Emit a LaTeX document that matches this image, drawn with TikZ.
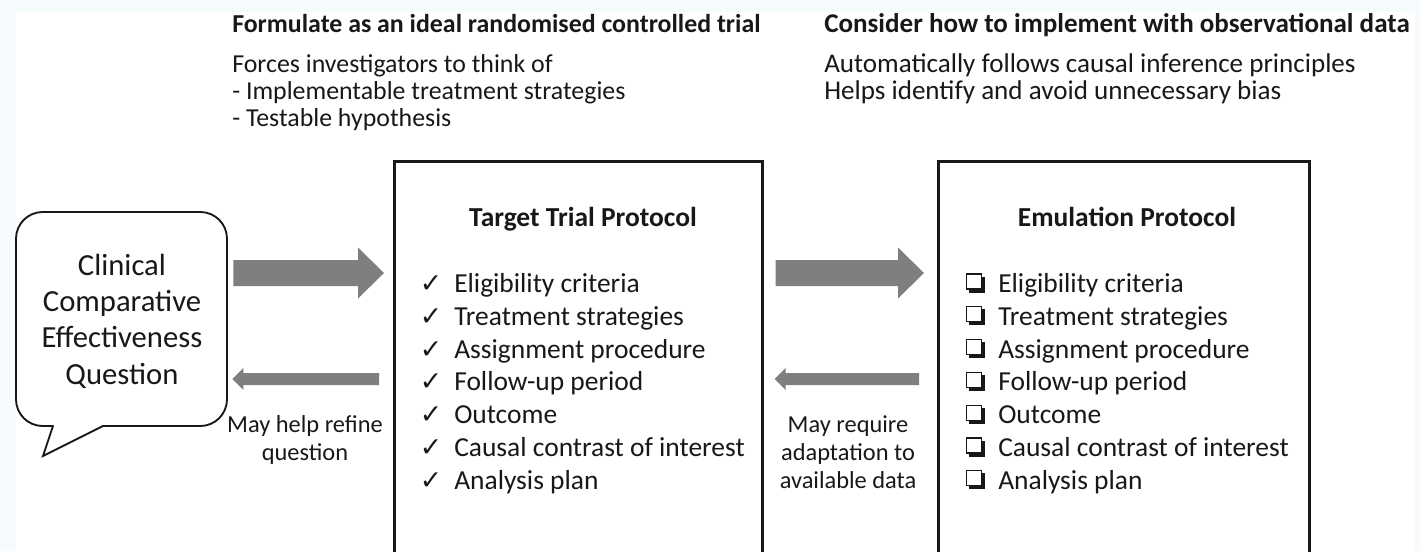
\documentclass[tikz,border=0pt]{standalone}
\usepackage{fontspec}
\setmainfont{Carlito}
\newfontfamily\symfont{DejaVu Sans}
\usetikzlibrary{calc}
\definecolor{arrowgray}{RGB}{127,127,127}
\definecolor{inkcol}{RGB}{24,24,24}
\definecolor{edgecol}{RGB}{246,251,254}

% block arrow: tail name, tip name, half shaft, half head, head length, direction (1 = right, -1 = left)
\newcommand\blockarrow[6]{%
  \fill[arrowgray] ([shift={(0,-#3)}]#1) -- ([shift={({0-(#6)*(#5)},-#3)}]#2)
    -- ([shift={({0-(#6)*(#5)},-#4)}]#2) -- (#2)
    -- ([shift={({0-(#6)*(#5)},#4)}]#2) -- ([shift={({0-(#6)*(#5)},#3)}]#2)
    -- ([shift={(0,#3)}]#1) -- cycle;}

\begin{document}
\begin{tikzpicture}[x=0.75pt,y=-0.75pt,
  txt/.style={inner sep=0pt, text=inkcol},
  toptext/.style={txt, anchor=base west, font=\fontsize{19.4pt}{23pt}\selectfont},
  topbold/.style={toptext, font=\fontsize{19.4pt}{23pt}\selectfont\bfseries},
  righttext/.style={txt, anchor=base west, font=\fontsize{20.3pt}{24pt}\selectfont},
  rightbold/.style={righttext, font=\fontsize{20.3pt}{24pt}\selectfont\bfseries},
  protobox/.style={draw=inkcol, line width=2pt, anchor=north west},
  boxtitle/.style={txt, anchor=base, font=\fontsize{20.6pt}{25pt}\selectfont\bfseries},
  itemtext/.style={txt, anchor=base west, font=\fontsize{20.6pt}{25pt}\selectfont},
  tick/.style={txt, anchor=base, font=\fontsize{20pt}{24pt}\symfont},
  bubbletext/.style={txt, anchor=base, font=\fontsize{23pt}{28pt}\selectfont},
  note/.style={txt, anchor=base, font=\fontsize{18.3pt}{22pt}\selectfont},
]
\useasboundingbox (0,0) rectangle (1420,551);
\clip (0,0) rectangle (1420,551);

% faint page edges
\fill[edgecol] (0,0) rectangle (16,551);
\fill[edgecol] (0,0) rectangle (1420,12);
\fill[edgecol] (1415,0) rectangle (1420,551);

% headings above the protocols
\node[topbold]   (trialhead) at (232,32) {Formulate as an ideal randomised controlled trial};
\node[toptext]   (triala)    at (232,72) {Forces investigators to think of};
\node[toptext]   (trialb)    at (232,99) {- Implementable treatment strategies};
\node[toptext]   (trialc)    at (232,126) {- Testable hypothesis};
\node[rightbold] (obshead)   at (824,32) {Consider how to implement with observational data};
\node[righttext] (obsa)      at (824,72) {Automatically follows causal inference principles};
\node[righttext] (obsb)      at (824,99) {Helps identify and avoid unnecessary bias};

% speech bubble with the question
\node[minimum width=158.25pt, minimum height=160.5pt, inner sep=0pt] (bubble) at (121.5,319) {};
\draw[inkcol, line width=1.4pt, line cap=round, rounded corners=20pt]
  (103,426) -- (227,426) -- (227,212) -- (16,212) -- (16,426) -- (53,426);
\draw[inkcol, line width=1.4pt, line cap=round, line join=miter] (53,426) -- (43,456) -- (103,426);
\node[bubbletext] (q1) at (122,275)   {Clinical};
\node[bubbletext] (q2) at (122,311.3) {Comparative};
\node[bubbletext] (q3) at (122,347.7) {Effectiveness};
\node[bubbletext] (q4) at (122,384)   {Question};

% the two protocol boxes
\node[protobox, minimum width=276pt, minimum height=330pt] (target) at (393,160) {};
\node[protobox, minimum width=278.25pt, minimum height=330pt] (emul) at (937,160) {};
\node[boxtitle] (targettitle) at (583,226.7) {Target Trial Protocol};
\node[boxtitle] (emultitle) at (1127,226) {Emulation Protocol};

\foreach \t [count=\i] in {Eligibility criteria, Treatment strategies, Assignment procedure,
    Follow-up period, Outcome, Causal contrast of interest, Analysis plan}{
  \pgfmathsetmacro\yb{292.5+(\i-1)*32.8}
  \node[tick] (tick\i) at (431,\yb) {✓};
  \node[itemtext] (titem\i) at (454,\yb) {\t};
  \node[itemtext] (eitem\i) at (998,\yb) {\t};
  % shadowed check box
  \pgfmathsetmacro\yt{\yb-19}
  \fill[inkcol] (969,\yt+15) rectangle (985,\yt+19);
  \fill[inkcol] (981,\yt+3) rectangle (985,\yt+19);
  \draw[inkcol, line width=0.8pt] (966.5,\yt+0.5) rectangle (981.5,\yt+15.5);
}

% connectors between the question and the protocols
\coordinate (upper) at (0,273);
\coordinate (lower) at (0,379);
\coordinate (a1s) at ($(bubble.east |- upper)+(6,0)$);
\coordinate (a1e) at ($(target.west |- upper)+(-9,0)$);
\coordinate (a2s) at ($(target.east |- upper)+(12,0)$);
\coordinate (a2e) at ($(emul.west |- upper)+(-13,0)$);
\coordinate (b1s) at ($(target.west |- lower)+(-14,0)$);
\coordinate (b1e) at ($(bubble.east |- lower)+(5,0)$);
\coordinate (b2s) at ($(emul.west |- lower)+(-18,0)$);
\coordinate (b2e) at ($(target.east |- lower)+(11,0)$);
\blockarrow{a1s}{a1e}{13}{25.5}{26}{1}
\blockarrow{a2s}{a2e}{13}{25.5}{26}{1}
\blockarrow{b1s}{b1e}{6}{11}{11}{-1}
\blockarrow{b2s}{b2e}{6}{11}{11}{-1}

% notes under the return arrows
\node[note] (refine1) at (305,432) {May help refine};
\node[note] (refine2) at (305,460) {question};
\node[note] (adapt1) at (848,432) {May require};
\node[note] (adapt2) at (848,460) {adaptation to};
\node[note] (adapt3) at (848,488) {available data};
\end{tikzpicture}
\end{document}
